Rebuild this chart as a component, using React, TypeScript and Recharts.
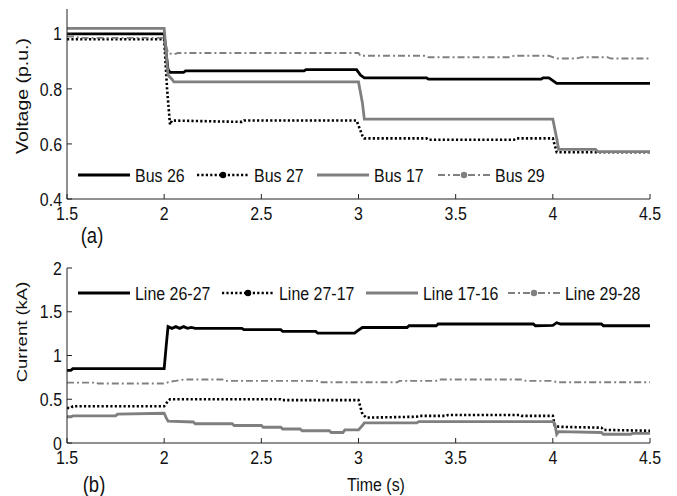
import React from 'react';
import { LineChart, Line, XAxis, YAxis } from 'recharts';

const FONT = "'Liberation Sans',Arial,Helvetica,sans-serif";
const SX = 0.84; // horizontal squeeze of the text, as in the reference

const xTicks = [1.5, 2, 2.5, 3, 3.5, 4, 4.5];
const voltTicks = [0.4, 0.6, 0.8, 1];
const currTicks = [0, 0.5, 1, 1.5, 2];

// (a) Voltage
const bus26T = [1.5, 2.0, 2.01, 2.02, 2.03, 2.1, 2.11, 2.72, 2.73, 2.99, 3.01, 3.03, 3.35, 3.36, 3.94, 3.95, 3.98, 4.0, 4.02, 4.5];
const bus26V = [1.0, 1.0, 0.93, 0.87, 0.86, 0.86, 0.865, 0.865, 0.87, 0.87, 0.85, 0.84, 0.84, 0.835, 0.835, 0.84, 0.84, 0.83, 0.82, 0.82];
const bus27T = [1.5, 2.0, 2.015, 2.03, 2.04, 2.4, 2.41, 2.99, 3.02, 3.03, 3.35, 3.36, 3.8, 3.81, 4.0, 4.02, 4.5];
const bus27V = [0.98, 0.98, 0.8, 0.67, 0.685, 0.68, 0.685, 0.685, 0.63, 0.62, 0.62, 0.615, 0.615, 0.62, 0.62, 0.57, 0.57];
const bus17T = [1.5, 2.0, 2.02, 2.04, 2.05, 3.0, 3.02, 3.03, 4.0, 4.02, 4.03, 4.22, 4.23, 4.5];
const bus17V = [1.02, 1.02, 0.85, 0.835, 0.825, 0.825, 0.75, 0.69, 0.69, 0.62, 0.58, 0.58, 0.572, 0.572];
const bus29T = [1.5, 1.55, 1.56, 2.0, 2.02, 2.05, 2.07, 3.0, 3.01, 3.35, 3.36, 3.78, 3.8, 3.98, 4.02, 4.12, 4.15, 4.28, 4.3, 4.5];
const bus29V = [0.99, 0.99, 0.985, 0.985, 0.93, 0.925, 0.93, 0.93, 0.92, 0.92, 0.915, 0.915, 0.92, 0.92, 0.91, 0.91, 0.915, 0.915, 0.91, 0.91];

// (b) Current
const l2627T = [1.5, 1.52, 1.53, 2.0, 2.01, 2.02, 2.04, 2.06, 2.08, 2.1, 2.12, 2.14, 2.16, 2.4, 2.41, 2.6, 2.61, 2.78, 2.79, 2.98, 3.0, 3.02, 3.25, 3.26, 3.4, 3.41, 3.9, 3.91, 4.0, 4.02, 4.04, 4.25, 4.26, 4.5];
const l2627V = [0.83, 0.83, 0.85, 0.85, 1.1, 1.33, 1.31, 1.33, 1.31, 1.33, 1.31, 1.32, 1.31, 1.31, 1.295, 1.295, 1.275, 1.275, 1.255, 1.255, 1.29, 1.32, 1.32, 1.34, 1.34, 1.36, 1.36, 1.34, 1.345, 1.375, 1.36, 1.36, 1.34, 1.34];
const l2717T = [1.5, 1.52, 1.53, 2.0, 2.02, 2.03, 2.6, 2.61, 3.0, 3.02, 3.04, 3.3, 3.31, 3.45, 3.46, 3.83, 3.84, 4.0, 4.01, 4.03, 4.25, 4.26, 4.5];
const l2717V = [0.4, 0.4, 0.42, 0.42, 0.48, 0.5, 0.5, 0.49, 0.49, 0.33, 0.29, 0.3, 0.31, 0.31, 0.32, 0.32, 0.31, 0.31, 0.2, 0.185, 0.175, 0.15, 0.14];
const l1716T = [1.5, 1.52, 1.53, 1.75, 1.76, 2.0, 2.01, 2.02, 2.15, 2.16, 2.35, 2.36, 2.5, 2.51, 2.6, 2.61, 2.7, 2.71, 2.85, 2.86, 2.92, 2.93, 3.0, 3.02, 3.03, 3.3, 3.31, 4.0, 4.01, 4.02, 4.03, 4.25, 4.26, 4.4, 4.41, 4.5];
const l1716V = [0.3, 0.3, 0.31, 0.31, 0.33, 0.34, 0.29, 0.25, 0.24, 0.22, 0.22, 0.2, 0.2, 0.18, 0.18, 0.16, 0.16, 0.14, 0.14, 0.12, 0.12, 0.15, 0.15, 0.2, 0.23, 0.23, 0.245, 0.245, 0.22, 0.1, 0.13, 0.12, 0.1, 0.1, 0.11, 0.11];
const l2928T = [1.5, 1.65, 1.66, 2.0, 2.03, 2.06, 2.1, 2.3, 2.31, 2.8, 2.81, 3.2, 3.21, 3.4, 3.41, 3.85, 3.86, 4.0, 4.02, 4.5];
const l2928V = [0.69, 0.69, 0.68, 0.68, 0.7, 0.71, 0.725, 0.725, 0.71, 0.71, 0.695, 0.695, 0.71, 0.71, 0.725, 0.725, 0.71, 0.71, 0.695, 0.695];

const voltNames = ['Bus 26', 'Bus 27', 'Bus 17', 'Bus 29'];
const currNames = ['Line 26-27', 'Line 27-17', 'Line 17-16', 'Line 29-28'];

const zip = (ts: number[], vs: number[]) => ts.map((t, i) => ({ t, v: vs[i] }));

type Sty = { stroke: string; width: number; dash?: string; dot: boolean };
const styles: Sty[] = [
  { stroke: '#000', width: 2.8, dot: false },
  { stroke: '#000', width: 2.6, dash: '2.2 2.2', dot: true },
  { stroke: '#7f7f7f', width: 2.8, dot: false },
  { stroke: '#808080', width: 1.9, dash: '7 3 2 3', dot: true },
];

const FS = 19;

function SText(props: { x: number; y: number; anchor?: string; size?: number; dy?: string; children: React.ReactNode }) {
  const { x, y, anchor = 'start', size = FS, dy = '0.35em', children } = props;
  return (
    <g transform={`translate(${x},${y}) scale(${SX},1)`}>
      <text x={0} y={0} dy={dy} textAnchor={anchor} fontFamily={FONT} fontSize={size} fill="#111">{children}</text>
    </g>
  );
}

const XTick = (p: any) => <SText x={p.x} y={p.y} anchor="middle" dy="0.72em">{String(p.payload.value)}</SText>;
const YTick = (p: any) => <SText x={p.x} y={p.y} anchor="end">{String(p.payload.value)}</SText>;

function Panel(props: {
  top: number; height: number; mTop: number; xH: number; xMargin: number;
  domain: [number, number]; yTicks: number[];
  series: { t: number; v: number }[][];
}) {
  const { top, height, mTop, xH, xMargin, domain, yTicks, series } = props;
  return (
    <div style={{ position: 'absolute', left: 0, top }}>
      <LineChart width={677} height={height} margin={{ top: mTop, right: 27, bottom: 0, left: 7 }}>
        <XAxis xAxisId="b" dataKey="t" type="number" domain={[1.5, 4.5]} ticks={xTicks} interval={0}
          allowDuplicatedCategory={false} height={xH} tickSize={-5} tickMargin={xMargin}
          stroke="#222" tick={<XTick />} />
        <XAxis xAxisId="top" orientation="top" dataKey="t" type="number" domain={[1.5, 4.5]} ticks={xTicks}
          interval={0} height={0} tickSize={-5} tick={false} stroke="#222" />
        <YAxis yAxisId="l" type="number" domain={domain} ticks={yTicks} interval={0} width={60}
          tickSize={-5} tickMargin={10} stroke="#222" tick={<YTick />} allowDataOverflow />
        <YAxis yAxisId="r" orientation="right" type="number" domain={domain} ticks={yTicks} interval={0}
          width={0} tickSize={-5} tick={false} stroke="#222" allowDataOverflow />
        {series.map((d, i) => (
          <Line key={i} xAxisId="b" yAxisId="l" data={d} dataKey="v" type="linear" dot={false}
            stroke={styles[i].stroke} strokeWidth={styles[i].width} strokeDasharray={styles[i].dash}
            isAnimationActive={false} />
        ))}
      </LineChart>
    </div>
  );
}

function LegendRow({ names, xs, y }: { names: string[]; xs: number[]; y: number }) {
  return (
    <g>
      {names.map((n, i) => {
        const s = styles[i];
        const x0 = xs[i];
        return (
          <g key={n}>
            <line x1={x0} x2={x0 + 52} y1={y} y2={y} stroke={s.stroke} strokeWidth={s.width}
              strokeDasharray={s.dash} />
            {s.dot && <circle cx={x0 + 26} cy={y} r={3.2} fill={s.stroke} />}
            <SText x={x0 + 57} y={y}>{n}</SText>
          </g>
        );
      })}
    </g>
  );
}

function VText({ x, y, size, children }: { x: number; y: number; size: number; children: React.ReactNode }) {
  return (
    <g transform={`translate(${x},${y}) scale(${SX},1) rotate(-90)`}>
      <text x={0} y={0} dy="0.35em" textAnchor="middle" fontFamily={FONT} fontSize={size} fill="#111">{children}</text>
    </g>
  );
}

export default function App() {
  const volt = [zip(bus26T, bus26V), zip(bus27T, bus27V), zip(bus17T, bus17V), zip(bus29T, bus29V)];
  const curr = [zip(l2627T, l2627V), zip(l2717T, l2717V), zip(l1716T, l1716V), zip(l2928T, l2928V)];
  return (
    <div style={{ position: 'absolute', left: 0, top: 0, width: 677, height: 496, background: '#fff', overflow: 'hidden' }}>
      <Panel top={0} height={232} mTop={9} xH={33} xMargin={12} domain={[0.4, 1.09]} yTicks={voltTicks} series={volt} />
      <Panel top={250} height={232} mTop={18} xH={39} xMargin={12} domain={[0, 2]} yTicks={currTicks} series={curr} />
      <svg width={677} height={496} style={{ position: 'absolute', left: 0, top: 0, pointerEvents: 'none' }}>
        <LegendRow names={voltNames} xs={[78, 197, 317, 438]} y={175} />
        <LegendRow names={currNames} xs={[78, 222, 366, 508]} y={293} />
        <VText x={22} y={96} size={19.5}>Voltage (p.u.)</VText>
        <VText x={22} y={332} size={18.5}>Current (kA)</VText>
        <SText x={92} y={235} anchor="middle" size={22}>(a)</SText>
        <SText x={94} y={484} anchor="middle" size={22}>(b)</SText>
        <SText x={376} y={484} anchor="middle">Time (s)</SText>
      </svg>
    </div>
  );
}
